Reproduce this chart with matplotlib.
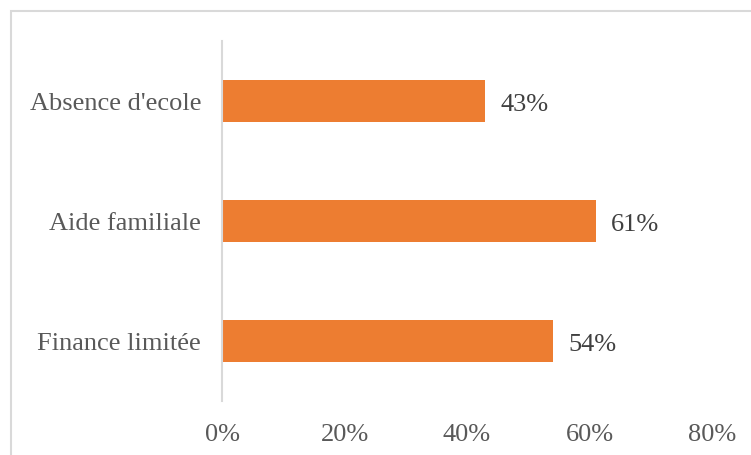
import matplotlib

matplotlib.use("Agg")

import matplotlib.pyplot as plt
from matplotlib.patches import Rectangle
from matplotlib.ticker import PercentFormatter

categories = ["Finance limitée", "Aide familiale", "Absence d'ecole"]
values = [0.54, 0.61, 0.43]
value_labels = ["54%", "61%", "43%"]

BAR_COLOR = "#ED7D31"
TEXT_COLOR = "#595959"
W, H = 751, 456

plt.rcParams["font.family"] = ["Liberation Serif", "DejaVu Serif"]

fig = plt.figure(figsize=(W / 100, H / 100), dpi=100)
# chart frame, cropped on the right and bottom like the original screenshot
fig.patches.append(
    Rectangle((11 / W, -0.1), 1.5, 1 - 11.5 / H + 0.1, transform=fig.transFigure,
              fill=False, edgecolor="#D9D9D9", linewidth=1.5)
)
ax = fig.add_axes([222 / W, 1 - 402 / H, (712 - 222) / W, 360 / H])

y = range(len(categories))
ax.barh(y, values, height=0.345, color=BAR_COLOR)
for yi, v, lab in zip(y, values, value_labels):
    ax.annotate(lab, xy=(v, yi), xytext=(11, -2), textcoords="offset points",
                ha="left", va="center", fontsize=19, color="#404040")

ax.set_xlim(0, 0.8)
ax.set_ylim(-0.5, 2.5)
ax.set_xticks([0, 0.2, 0.4, 0.6, 0.8])
ax.xaxis.set_major_formatter(PercentFormatter(1.0, decimals=0))
ax.set_yticks(list(y))
ax.set_yticklabels(categories)
ax.tick_params(axis="both", length=0, labelsize=19, labelcolor=TEXT_COLOR)
ax.tick_params(axis="x", pad=15.5)
ax.tick_params(axis="y", pad=15)
for s in ("top", "right", "bottom"):
    ax.spines[s].set_visible(False)
ax.spines["left"].set_color("#D9D9D9")
ax.spines["left"].set_linewidth(1.5)

fig.savefig("out.png", dpi=100)
